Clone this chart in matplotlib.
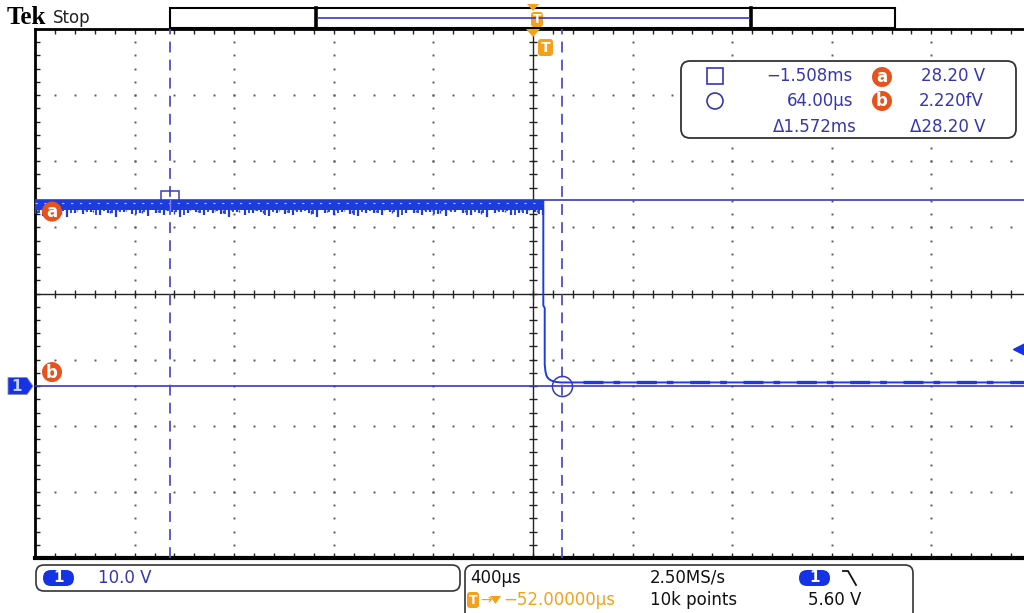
import numpy as np
import matplotlib.pyplot as plt
from matplotlib.patches import FancyBboxPatch, Polygon, Rectangle, Circle
from matplotlib import transforms

plt.rcParams.update({
    "font.family": "DejaVu Sans",
    "font.size": 12,
})

# scope settings
VOLTS_DIV = 10.0          # V / div
TIME_DIV = 400.0          # us / div
H_DELAY = -52.0           # us, screen centre relative to trigger
SCREEN_MID_V = 14.0       # V at the centre graticule line
TRIG_LEVEL = 5.60         # V

# cursors
CUR_A_T, CUR_A_V = -1508.0, 28.20
CUR_B_T, CUR_B_V = 64.0, 0.0

# waveform: noisy high level, falling edge, low level
HIGH_END_T = -10.6
HIGH_TOP_V = 28.1
HIGH_DENSE_V = 26.7
HIGH_LOW_V = [26.0, 25.7, 26.3, 25.9, 25.5, 26.2, 26.0, 26.4, 25.8, 26.1, 25.6, 26.3, 26.0, 26.2, 25.7, 26.1,
              25.9, 26.4, 25.5, 26.1, 26.3, 25.8, 26.2, 26.0, 25.6, 26.3, 25.9, 26.1, 26.4, 25.7, 26.2, 26.0,
              25.8, 26.3, 26.1, 25.5, 26.2, 25.9, 26.4, 26.0, 25.7, 26.2, 26.1, 25.9, 26.3, 25.6, 26.1, 26.2,
              25.8, 26.4, 26.0, 25.7, 26.3, 26.1, 25.9, 26.2, 25.5, 26.1, 26.3, 25.8, 26.2, 26.0, 26.4, 25.9]
EDGE_T = [-10.6, -10.6, -5.0, -5.0, -2.0, 2.0, 8.0, 16.0, 24.0, 40.0, 60.0]
EDGE_V = [28.0, 12.2, 11.8, 3.3, 2.2, 1.6, 1.2, 0.95, 0.8, 0.62, 0.55]
LOW_V = 0.55
LOW_NOISE_START_T = 150.0
LOW_NOISE_V = 0.68

TRACE = "#1e3cdc"
CURSOR = "#3a3ab8"
TEXT_BLUE = "#3636b0"
ORANGE = "#f5a11c"
BADGE = "#e8521c"
PILL = "#1632e6"

W, H = 1024, 613
GL, GT, GB = 35, 29, 558
GW = 10 * 99.6

fig = plt.figure(figsize=(W / 100, H / 100), dpi=100)
ax = fig.add_axes([GL / W, 1 - GB / H, GW / W, (GB - GT) / H], zorder=1)

t0 = H_DELAY - 5 * TIME_DIV
t1 = H_DELAY + 5 * TIME_DIV
v0 = SCREEN_MID_V - 4 * VOLTS_DIV
v1 = SCREEN_MID_V + 4 * VOLTS_DIV
ax.set_xlim(t0, t1)
ax.set_ylim(v0, v1)
ax.set_xticks([])
ax.set_yticks([])
for s in ax.spines.values():
    s.set_linewidth(2)
    s.set_color("black")
ax.spines["bottom"].set_linewidth(3)

# graticule: dotted division lines, centre cross with ticks, edge ticks
minor_t = np.arange(t0, t1 + 1, TIME_DIV / 5)
minor_v = np.arange(v0, v1 + 0.01, VOLTS_DIV / 5)
dot = dict(ls="none", marker="s", ms=1.4, mew=0, color="#5a5a5a")
for k in range(-4, 5):
    if k != 0:
        ax.plot(np.full_like(minor_v, H_DELAY + k * TIME_DIV), minor_v, **dot)
for k in range(-3, 4):
    if k != 0:
        ax.plot(minor_t, np.full_like(minor_t, SCREEN_MID_V + k * VOLTS_DIV), **dot)
ax.axvline(H_DELAY, color="#222222", lw=1)
ax.axhline(SCREEN_MID_V, color="#222222", lw=1)
tick = dict(ls="none", mew=1, color="#222222")
ax.plot(np.full_like(minor_v, H_DELAY), minor_v, marker="_", ms=6, **tick)
ax.plot(minor_t, np.full_like(minor_t, SCREEN_MID_V), marker="|", ms=6, **tick)
ax.plot(minor_t, np.full_like(minor_t, v1), marker="|", ms=7, **tick)
ax.plot(minor_t, np.full_like(minor_t, v0), marker="|", ms=7, **tick)
ax.plot(np.full_like(minor_v, t0), minor_v, marker="_", ms=7, **tick)

# cursors
ax.axhline(CUR_A_V, color=CURSOR, lw=1.2, zorder=3)
ax.axhline(CUR_B_V, color=CURSOR, lw=1.2, zorder=3)
ax.axvline(CUR_A_T, color="#4f4fc8", lw=1.3, dashes=(6, 4), zorder=3)
ax.axvline(CUR_B_T, color="#4f4fc8", lw=1.3, dashes=(6, 4), zorder=3)
ax.plot([CUR_A_T], [CUR_A_V], marker="s", ms=13.5, mfc="none", mec=CURSOR, mew=1.1, zorder=3.5)
ax.plot([CUR_B_T], [CUR_B_V], marker="o", ms=14.5, mfc="none", mec=CURSOR, mew=1.1, zorder=6)

# waveform
ax.fill_between([t0, HIGH_END_T], HIGH_DENSE_V, HIGH_TOP_V, color=TRACE, lw=0, zorder=4)
spike_t = np.linspace(t0, HIGH_END_T, len(HIGH_LOW_V))
ax.vlines(spike_t, HIGH_LOW_V, HIGH_DENSE_V, color=TRACE, lw=1.6, zorder=4)
ax.vlines(spike_t[:-1] + np.diff(spike_t) / 2, np.array(HIGH_LOW_V[::-1][:-1]) + 0.3, HIGH_DENSE_V,
          color=TRACE, lw=1.3, zorder=4)
ax.vlines(spike_t[:-1] + np.diff(spike_t) / 4, np.array(HIGH_LOW_V[1:]) + 0.5, HIGH_DENSE_V,
          color=TRACE, lw=1.0, zorder=4)
ax.plot([t0, HIGH_END_T], [27.75, 27.75], color="white", lw=0.8, dashes=(2, 6), alpha=0.7, zorder=4)
ax.plot([CUR_A_T, CUR_A_T], [HIGH_DENSE_V, HIGH_TOP_V], color="#8080e0", lw=1.0, zorder=4.5)
ax.plot(EDGE_T + [t1], EDGE_V + [LOW_V], color=TRACE, lw=1.4, zorder=4)
ax.plot([LOW_NOISE_START_T, t1], [LOW_NOISE_V] * 2, color=TRACE, lw=2.4, dashes=(6, 3, 2, 5), zorder=4)

# trigger level marker at right edge
blend = transforms.blended_transform_factory(ax.transAxes, ax.transData)
ax.plot([0.988], [TRIG_LEVEL], marker="<", ms=8, color=PILL, transform=blend, clip_on=False, zorder=6)

# overlay in pixel coordinates for the readouts
ov = fig.add_axes([0, 0, 1, 1], zorder=5)
ov.set_xlim(0, W)
ov.set_ylim(H, 0)
ov.axis("off")


def v_px(v):
    return GT + (v1 - v) / (v1 - v0) * (GB - GT)


def badge(x, y, letter):
    ov.add_patch(Circle((x, y), 10, fc=BADGE, ec="none"))
    ov.text(x, y + 0.5, letter, color="white", fontweight="bold", fontsize=12, ha="center", va="center")


def t_tag(x, y, w, h, fs):
    ov.add_patch(FancyBboxPatch((x, y), w, h, boxstyle="round,pad=0,rounding_size=3", fc=ORANGE, ec="none"))
    ov.text(x + w / 2, y + h / 2, "T", color="white", fontweight="bold", fontsize=fs, ha="center", va="center")


def pill(x, y):
    ov.add_patch(FancyBboxPatch((x, y), 31, 16, boxstyle="round,pad=0,rounding_size=8", fc=PILL, ec="none"))
    ov.text(x + 15.5, y + 8, "1", color="white", fontweight="bold", fontsize=11, ha="center", va="center")


# header
ov.text(7, 18, "Tek", fontfamily="Liberation Serif", fontweight="bold", fontsize=18, va="center")
ov.text(53, 18, "Stop", fontsize=12, va="center", color="#222222")
ov.add_patch(Rectangle((170, 8), 725, 20, fc="white", ec="black", lw=1.5))
ov.plot([316, 316], [8, 28], color="black", lw=2.6)
ov.plot([751, 751], [8, 28], color="black", lw=2.6)
ov.plot([318, 749], [18, 18], color=CURSOR, lw=1.2)
ov.add_patch(Polygon([(527, 4), (539, 4), (533, 11)], fc=ORANGE, ec="none"))
t_tag(531, 12, 12, 15, 9)
ov.add_patch(Polygon([(526, 29), (540, 29), (533, 37)], fc=ORANGE, ec="none", zorder=3))
t_tag(538, 39, 15, 17, 10)

# trace labels and channel marker
badge(52, v_px(CUR_A_V) + 12, "a")
badge(52, v_px(CUR_B_V) - 14, "b")
gy = v_px(0.0)
ov.add_patch(Polygon([(8, gy - 8.5), (27, gy - 8.5), (33, gy), (27, gy + 8.5), (8, gy + 8.5)],
                     fc=PILL, ec="#8890a8", lw=0.6))
ov.text(17, gy, "1", color="#c8d0e8", fontweight="bold", fontsize=11, ha="center", va="center")

# cursor readout box
ov.add_patch(FancyBboxPatch((681, 61), 335, 77, boxstyle="round,pad=0,rounding_size=9",
                            fc="white", ec="#333333", lw=1.3))
ov.add_patch(Rectangle((707, 68), 16, 16, fc="none", ec=TEXT_BLUE, lw=1.2))
ov.add_patch(Circle((715, 101), 8, fc="none", ec=TEXT_BLUE, lw=1.2))
rd = dict(color=TEXT_BLUE, fontsize=12, ha="right", va="center")
ov.text(853, 76, "\u22121.508ms", **rd)
ov.text(853, 101, "64.00\u00b5s", **rd)
ov.text(857, 127, "\u03941.572ms", **rd)
ov.text(985, 76, "28.20 V", **rd)
ov.text(984, 101, "2.220fV", **rd)
ov.text(985, 127, "\u039428.20 V", **rd)
badge(882, 77, "a")
badge(882, 101, "b")

# bottom readouts
ov.add_patch(FancyBboxPatch((36, 565), 424, 26, boxstyle="round,pad=0,rounding_size=8",
                            fc="white", ec="#333333", lw=1.2))
pill(43, 570)
ov.text(98, 578, "10.0 V", color=TEXT_BLUE, fontsize=12, va="center")
ov.add_patch(FancyBboxPatch((465, 565), 448, 60, boxstyle="round,pad=0,rounding_size=8",
                            fc="white", ec="#333333", lw=1.2))
ov.text(470, 578, "400\u00b5s", color="#111111", fontsize=12, va="center")
ov.text(650, 578, "2.50MS/s", color="#111111", fontsize=12, va="center")
pill(799, 570)
ov.plot([843, 848, 856], [571, 571, 585], color="#111111", lw=1.3)
t_tag(467, 592, 12, 16, 9)
ov.text(480, 600, "\u2192", color=ORANGE, fontsize=10, va="center")
ov.add_patch(Polygon([(490, 596), (501, 596), (495.5, 604)], fc=ORANGE, ec="none"))
ov.text(503, 600, "\u221252.00000\u00b5s", color=ORANGE, fontsize=12, va="center")
ov.text(650, 600, "10k points", color="#111111", fontsize=12, va="center")
ov.text(808, 600, "5.60 V", color="#111111", fontsize=12, va="center")

fig.savefig("out.png", dpi=100)
